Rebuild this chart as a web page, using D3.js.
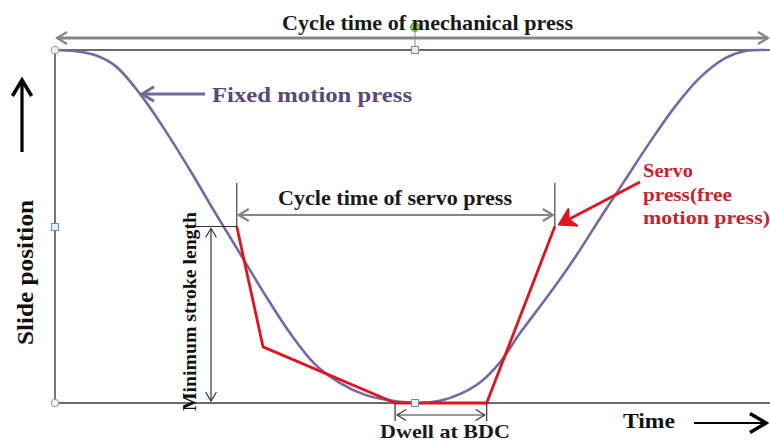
<!DOCTYPE html>
<html>
<head>
<meta charset="utf-8">
<script src="https://cdn.jsdelivr.net/npm/d3@7"></script>
<style>
  html, body { margin: 0; padding: 0; background: #fff; overflow: hidden; }
  svg { display: block; }
  svg text { font-family: "Liberation Serif", "DejaVu Serif", serif; font-weight: bold; }
</style>
</head>
<body>
<div id="chart"></div>
<script>
// Fixed motion (mechanical) press: time in % of cycle, slide position in % of stroke
const mechTime = [0, 2.8, 5.6, 8.5, 12.0, 15.5, 19.0, 22.5, 26.1, 29.6, 33.1, 36.6, 40.1, 43.7, 47.6, 51.4,
    54.2, 57.0, 59.9, 62.7, 65.5, 69.3, 73.2, 76.8, 80.3, 83.8, 87.3, 90.8, 94.4, 97.2, 100];
const mechPos = [100, 99.7, 98.6, 95.5, 87.5, 77.3, 66.0, 54.1, 42.2, 30.6, 19.8, 11.0, 5.7, 2.3, 0.6, 0,
    0.6, 2.5, 5.9, 11.6, 19.8, 30.0, 41.1, 52.4, 63.2, 73.9, 83.9, 92.1, 97.7, 99.7, 100];

// Servo (free motion) press
const servoTime = [25.6, 29.3, 47.9, 60.8, 70.4];
const servoPos = [50, 15.9, 0, 0, 50];

// Annotation spans
const servoCycle = [25.6, 70.4];
const dwellSpan = [47.9, 60.8];
const minStroke = [0, 50];

const labels = {
    title: "Cycle time of mechanical press",
    fixed: "Fixed motion press",
    servoCycle: "Cycle time of servo press",
    minStroke: "Minimum stroke length",
    dwell: "Dwell at BDC",
    yAxis: "Slide position",
    xAxis: "Time",
    servo: ["Servo", "press(free", "motion press)"]
};

const width = 770, height = 443;
const svg = d3.select("#chart").append("svg")
    .attr("width", width).attr("height", height);

const x = d3.scaleLinear().domain([0, 100]).range([55, 765]);
const y = d3.scaleLinear().domain([0, 100]).range([403, 50]);

// Markers
const defs = svg.append("defs");
const addMarker = (id, color, size, sw, fill) => {
    defs.append("marker")
        .attr("id", id)
        .attr("viewBox", "-12 -8 14 16")
        .attr("refX", 0).attr("refY", 0)
        .attr("markerUnits", "userSpaceOnUse")
        .attr("markerWidth", size * 1.4).attr("markerHeight", size * 1.6)
        .attr("orient", "auto-start-reverse")
        .append("path")
        .attr("d", fill ? "M-10,-6 L0,0 L-10,6 L-7,0 Z" : "M-10,-6 L0,0 L-10,6")
        .attr("fill", fill ? color : "none")
        .attr("stroke", color)
        .attr("stroke-width", sw)
        .attr("stroke-linejoin", "miter");
};
addMarker("grayArrow", "#858585", 10, 2.2, false);
addMarker("thinArrow", "#333", 9, 1.3, false);
addMarker("blackArrow", "#000", 16, 2.2, false);
addMarker("purpleArrow", "#7566a0", 12, 2.5, false);
addMarker("redArrow", "#e0141e", 13, 2.5, true);

const line = (g, x1, y1, x2, y2, color, sw) => g.append("line")
    .attr("x1", x1).attr("y1", y1).attr("x2", x2).attr("y2", y2)
    .attr("stroke", color).attr("stroke-width", sw);

// Frame
const frame = svg.append("g");
line(frame, x(0), y(100), width, y(100), "#3a3a3a", 1.6);
line(frame, x(0), y(0), width, y(0), "#3a3a3a", 1.6);
line(frame, x(0), y(100), x(0), y(0), "#3a3a3a", 1.4);

// Top cycle arrow
line(svg, x(0) + 2, 38, width - 2, 38, "#858585", 3)
    .attr("marker-start", "url(#grayArrow)")
    .attr("marker-end", "url(#grayArrow)");

// Mechanical press curve
const mechData = mechTime.map((t, i) => [t, mechPos[i]]);
svg.append("path")
    .datum(mechData)
    .attr("fill", "none")
    .attr("stroke", "#7668a2")
    .attr("stroke-width", 2.6)
    .attr("d", d3.line().x(d => x(d[0])).y(d => y(d[1])).curve(d3.curveCatmullRom.alpha(0.5)));

// Servo press polyline
const servoData = servoTime.map((t, i) => [t, servoPos[i]]);
svg.append("path")
    .datum(servoData)
    .attr("fill", "none")
    .attr("stroke", "#e0141e")
    .attr("stroke-width", 2.8)
    .attr("stroke-linejoin", "round")
    .attr("d", d3.line().x(d => x(d[0])).y(d => y(d[1])));

// Servo cycle span
line(svg, x(servoCycle[0]), 183, x(servoCycle[0]), y(minStroke[1]) + 1, "#444", 1.2);
line(svg, x(servoCycle[1]), 183, x(servoCycle[1]), y(minStroke[1]) + 1, "#444", 1.2);
line(svg, x(servoCycle[0]) + 2, 215, x(servoCycle[1]) - 2, 215, "#858585", 2.2)
    .attr("marker-start", "url(#grayArrow)")
    .attr("marker-end", "url(#grayArrow)");

// Minimum stroke length span
line(svg, 195, y(minStroke[1]), x(servoCycle[0]), y(minStroke[1]), "#333", 1.2);
line(svg, 211, y(minStroke[1]) + 2, 211, y(minStroke[0]) - 2, "#333", 1.2)
    .attr("marker-start", "url(#thinArrow)")
    .attr("marker-end", "url(#thinArrow)");

// Dwell span
line(svg, x(dwellSpan[0]), y(0), x(dwellSpan[0]), 421, "#333", 1.2);
line(svg, x(dwellSpan[1]), y(0), x(dwellSpan[1]), 421, "#333", 1.2);
line(svg, x(dwellSpan[0]) + 2, 415, x(dwellSpan[1]) - 2, 415, "#333", 1.2)
    .attr("marker-start", "url(#thinArrow)")
    .attr("marker-end", "url(#thinArrow)");

// Selection handles
const handles = svg.append("g");
line(handles, 415, 31, 415, 47, "#7a8a9a", 1);
[[55, 50], [55, 403]].forEach(([cx, cy]) => handles.append("circle")
    .attr("cx", cx).attr("cy", cy).attr("r", 3.8)
    .attr("fill", "#eef3f8").attr("stroke", "#8a9aaa").attr("stroke-width", 1));
[[55, 227], [415, 50], [415, 403]].forEach(([cx, cy]) => handles.append("rect")
    .attr("x", cx - 3.5).attr("y", cy - 3.5).attr("width", 7).attr("height", 7)
    .attr("fill", "#e4f2fb").attr("stroke", "#6f8ea8").attr("stroke-width", 1));
handles.append("circle").attr("cx", 415).attr("cy", 27).attr("r", 4.5)
    .attr("fill", "#84d04c").attr("stroke", "#5e9a3a").attr("stroke-width", 1);

// Pointer arrows
line(svg, 205, 94, 142, 94, "#7566a0", 3).attr("marker-end", "url(#purpleArrow)");
line(svg, 640, 182, 560, 224, "#e0141e", 2.8).attr("marker-end", "url(#redArrow)");

// Axis arrows
line(svg, 22, 152, 22, 80, "#000", 3.2).attr("marker-end", "url(#blackArrow)");
line(svg, 694, 423, 766, 423, "#000", 2.2).attr("marker-end", "url(#blackArrow)");

// Texts
const text = (str, tx, ty, size, fill, len, rot) => {
    const t = svg.append("text")
        .attr("x", tx).attr("y", ty)
        .attr("font-size", size)
        .attr("fill", fill)
        .attr("textLength", len)
        .attr("lengthAdjust", "spacingAndGlyphs")
        .text(str);
    if (rot) t.attr("transform", `rotate(-90, ${tx}, ${ty})`);
    return t;
};
text(labels.title, 282, 30, 20, "#1a1a1a", 291);
text(labels.fixed, 212, 102, 21, "#5a4878", 200);
text(labels.servoCycle, 278, 205, 20, "#1a1a1a", 234);
text(labels.dwell, 380, 438, 19, "#1a1a1a", 130);
text(labels.xAxis, 623, 428, 21, "#111", 52);
text(labels.yAxis, 33, 345, 24, "#111", 145, true);
text(labels.minStroke, 196, 411, 19, "#111", 199, true);
const servoLens = [50, 89, 127];
labels.servo.forEach((s, i) => text(s, 643, 177 + i * 23.5, 18, "#c8232b", servoLens[i]));
</script>
</body>
</html>
